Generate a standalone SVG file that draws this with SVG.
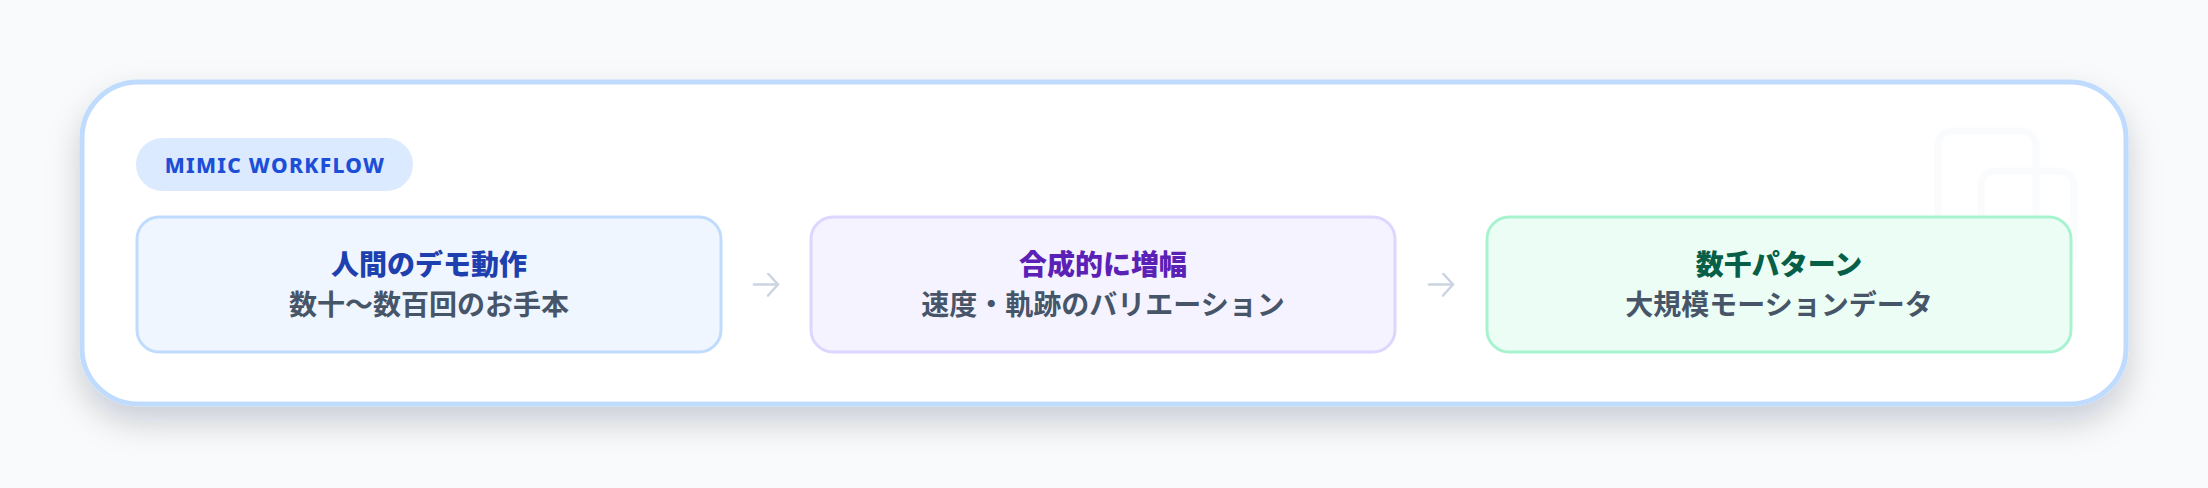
<svg xmlns="http://www.w3.org/2000/svg" width="2208" height="488" viewBox="0 0 2208 488">
  <defs>
    <filter id="cardShadow" x="-10%" y="-30%" width="120%" height="170%">
      <feDropShadow dx="0" dy="16" stdDeviation="16" flood-color="#0f172a" flood-opacity="0.18"/>
    </filter>
    <marker id="arrowhead" viewBox="0 0 12 24" refX="11" refY="12" markerWidth="12" markerHeight="24" markerUnits="userSpaceOnUse" orient="auto">
      <path d="M1,1 L11,12 L1,23" fill="none" stroke="#cbd5e1" stroke-width="2.6" stroke-linecap="round" stroke-linejoin="round"/>
    </marker>
  </defs>
  <style>
    .node-box { stroke-width: 3; }
    .title { font-family: "Noto Sans CJK JP", "Noto Sans", sans-serif; font-size: 28px; font-weight: 800; text-anchor: middle; }
    .sub { font-family: "Noto Sans CJK JP", "Noto Sans", sans-serif; font-size: 28px; font-weight: 700; text-anchor: middle; fill: #475569; }
    .conn { stroke: #cbd5e1; stroke-width: 2.6; stroke-linecap: round; fill: none; }
  </style>
  <rect x="0" y="0" width="2208" height="488" fill="#f8fafc"/>

  <g id="card">
    <rect x="82" y="82" width="2044" height="322" rx="56" ry="56" fill="#ffffff" stroke="#bfdbfe" stroke-width="5" filter="url(#cardShadow)"/>
    <g id="watermark" fill="none" stroke="#f1f5f9" stroke-width="7" opacity="0.35">
      <rect x="1938" y="131" width="98" height="98" rx="14"/>
      <rect x="1981" y="171" width="93" height="96" rx="14"/>
    </g>
  </g>

  <g id="badge">
    <rect x="136" y="138" width="277" height="53" rx="26.5" fill="#dbeafe"/>
    <text x="275" y="173" text-anchor="middle" font-family="Noto Sans, sans-serif" font-size="21" font-weight="800" letter-spacing="1.3" fill="#1d4ed8">MIMIC WORKFLOW</text>
  </g>

  <g id="node1">
    <rect class="node-box" x="137" y="217" width="584" height="135" rx="22" fill="#eff6ff" stroke="#bfdbfe"/>
    <text class="title" x="429" y="275" fill="#1e40af">人間のデモ動作</text>
    <text class="sub" x="429" y="315">数十〜数百回のお手本</text>
  </g>

  <g id="node2">
    <rect class="node-box" x="811" y="217" width="584" height="135" rx="22" fill="#f5f3ff" stroke="#ddd6fe"/>
    <text class="title" x="1103" y="275" fill="#5b21b6">合成的に増幅</text>
    <text class="sub" x="1103" y="315">速度・軌跡のバリエーション</text>
  </g>

  <g id="node3">
    <rect class="node-box" x="1487" y="217" width="584" height="135" rx="22" fill="#ecfdf5" stroke="#a7f3d0"/>
    <text class="title" x="1779" y="275" fill="#065f46">数千パターン</text>
    <text class="sub" x="1779" y="315">大規模モーションデータ</text>
  </g>

  <g id="connectors">
    <line class="conn" x1="754" y1="284.5" x2="778" y2="284.5" marker-end="url(#arrowhead)"/>
    <line class="conn" x1="1429" y1="284.5" x2="1453" y2="284.5" marker-end="url(#arrowhead)"/>
  </g>
</svg>
